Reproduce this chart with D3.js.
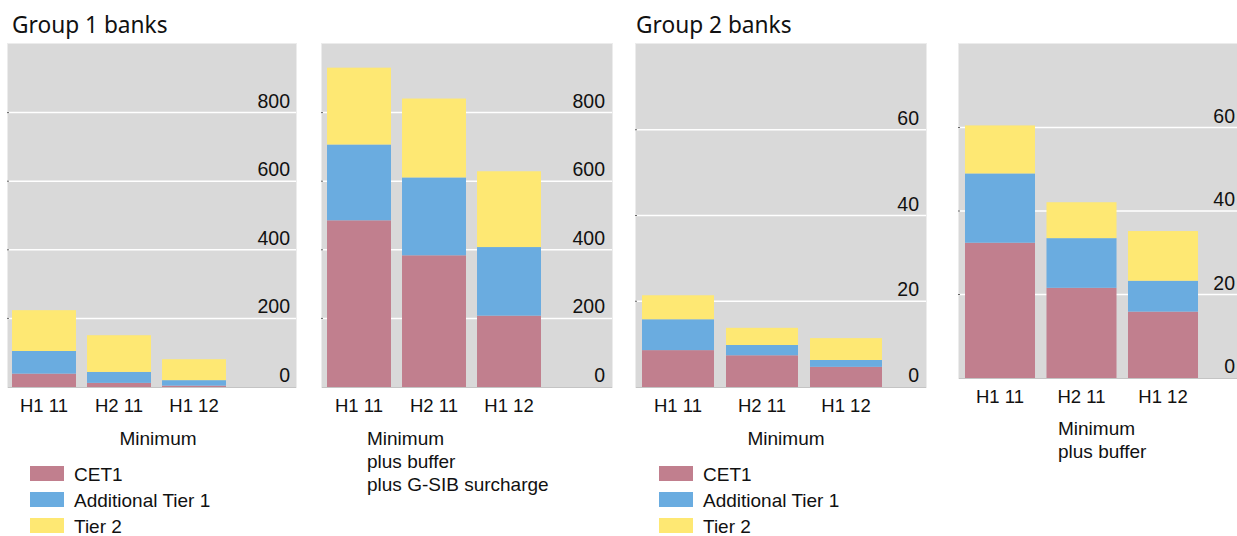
<!DOCTYPE html>
<html>
<head>
<meta charset="utf-8">
<title>Capital shortfall by group</title>
<script src="https://d3js.org/d3.v7.min.js"></script>
<style>
    body { margin: 0; background: #fff; }
    text { font-family: "Liberation Sans", Arial, sans-serif; fill: #111; }
    .title { font-family: "Noto Sans", "Open Sans", sans-serif; font-size: 22.7px; }
</style>
</head>
<body>
<svg id="chart" width="1237" height="536"></svg>
<script>
// categories and series
const periods = ["H1 11", "H2 11", "H1 12"];
const seriesNames = ["CET1", "Additional Tier 1", "Tier 2"];
const seriesColors = ["#c17f8e", "#6aace0", "#fee873"];

// Group 1 banks, EUR bn
const g1MinCET1 = [39, 12, 4];
const g1MinAT1 = [66, 32, 16];
const g1MinT2 = [119, 107, 61];
const g1BufCET1 = [486, 384, 208];
const g1BufAT1 = [221, 227, 200];
const g1BufT2 = [224, 230, 221];

// Group 2 banks
const g2MinCET1 = [8.6, 7.4, 4.7];
const g2MinAT1 = [7.2, 2.4, 1.6];
const g2MinT2 = [5.6, 4.0, 5.1];
const g2BufCET1 = [32.4, 21.6, 15.9];
const g2BufAT1 = [16.6, 11.9, 7.4];
const g2BufT2 = [11.5, 8.6, 11.9];

const g1Ticks = [0, 200, 400, 600, 800];
const g2Ticks = [0, 20, 40, 60];

const svg = d3.select("#chart");

// layout of each panel
const panels = [
    { vals: [g1MinCET1, g1MinAT1, g1MinT2], max: 1000, ticks: g1Ticks,
      left: 8, right: 296, top: 44, bottom: 387, band: [6.5, 231.5], pad: 0.147, tickX: 290,
      sub: ["Minimum"], subX: 158, subAnchor: "middle", subY: 445,
      legend: { x: 30, y: 466 } },
    { vals: [g1BufCET1, g1BufAT1, g1BufT2], max: 1000, ticks: g1Ticks,
      left: 322, right: 612, top: 44, bottom: 387, band: [321.5, 546.5], pad: 0.147, tickX: 605,
      sub: ["Minimum", "plus buffer", "plus G-SIB surcharge"], subX: 367, subAnchor: "start", subY: 445 },
    { vals: [g2MinCET1, g2MinAT1, g2MinT2], max: 80, ticks: g2Ticks,
      left: 636, right: 926, top: 44, bottom: 387, band: [636, 888], pad: 0.143, tickX: 919,
      sub: ["Minimum"], subX: 786, subAnchor: "middle", subY: 445,
      legend: { x: 659, y: 466 } },
    { vals: [g2BufCET1, g2BufAT1, g2BufT2], max: 80, ticks: g2Ticks,
      left: 959, right: 1237, top: 44, bottom: 378, band: [959.25, 1203.75], pad: 0.141, tickX: 1235,
      sub: ["Minimum", "plus buffer"], subX: 1058, subAnchor: "start", subY: 435 }
];

svg.append("text").attr("class", "title").attr("x", 12).attr("y", 33).text("Group 1 banks");
svg.append("text").attr("class", "title").attr("x", 636).attr("y", 33).text("Group 2 banks");

panels.forEach(function (p) {
    const g = svg.append("g");

    const x = d3.scaleBand()
        .domain(periods)
        .range(p.band)
        .paddingInner(p.pad)
        .paddingOuter(p.pad / 2);

    const y = d3.scaleLinear()
        .domain([0, p.max])
        .range([p.bottom, p.top]);

    // plot background
    g.append("rect")
        .attr("x", p.left - 0.5)
        .attr("y", p.top - 0.5)
        .attr("width", p.right - p.left + 1)
        .attr("height", p.bottom - p.top + 1)
        .attr("fill", "#d9d9d9")
        .attr("stroke", "#ececec");

    // gridlines
    g.selectAll(".grid")
        .data(p.ticks.filter(d => d > 0))
        .enter()
        .append("line")
        .attr("x1", p.left)
        .attr("x2", p.right)
        .attr("y1", d => y(d))
        .attr("y2", d => y(d))
        .attr("stroke", "#fff")
        .attr("stroke-width", 1.5);

    // small left ticks
    g.selectAll(".ltick")
        .data(p.ticks.filter(d => d > 0))
        .enter()
        .append("line")
        .attr("x1", p.left - 1)
        .attr("x2", p.left + 1)
        .attr("y1", d => y(d))
        .attr("y2", d => y(d))
        .attr("stroke", "#666")
        .attr("stroke-width", 1);

    // stacked bars
    const rows = periods.map((per, i) => {
        const r = { period: per };
        seriesNames.forEach((s, k) => { r[s] = p.vals[k][i]; });
        return r;
    });
    const stacked = d3.stack().keys(seriesNames)(rows);

    g.selectAll(".layer")
        .data(stacked)
        .enter()
        .append("g")
        .attr("fill", (d, i) => seriesColors[i])
        .selectAll("rect")
        .data(d => d)
        .enter()
        .append("rect")
        .attr("x", d => x(d.data.period))
        .attr("width", x.bandwidth())
        .attr("y", d => y(d[1]))
        .attr("height", d => y(d[0]) - y(d[1]));

    // baseline
    g.append("line")
        .attr("x1", p.left)
        .attr("x2", p.right)
        .attr("y1", p.bottom + 0.5)
        .attr("y2", p.bottom + 0.5)
        .attr("stroke", "#c4c4c4");

    // value labels sit above their gridlines, right aligned
    g.selectAll(".ylab")
        .data(p.ticks)
        .enter()
        .append("text")
        .attr("x", p.tickX)
        .attr("y", d => y(d) - 5)
        .attr("text-anchor", "end")
        .style("font-size", "19.5px")
        .text(d => d);

    // category labels
    g.selectAll(".xlab")
        .data(periods)
        .enter()
        .append("text")
        .attr("x", d => x(d) + x.bandwidth() / 2)
        .attr("y", p.bottom + 25)
        .attr("text-anchor", "middle")
        .style("font-size", "18.5px")
        .text(d => d);

    // panel subtitle
    g.selectAll(".sub")
        .data(p.sub)
        .enter()
        .append("text")
        .attr("x", p.subX)
        .attr("y", (d, i) => p.subY + i * 23)
        .attr("text-anchor", p.subAnchor)
        .style("font-size", "19px")
        .text(d => d);

    // legend
    if (p.legend) {
        const lg = g.selectAll(".leg")
            .data(seriesNames)
            .enter()
            .append("g")
            .attr("transform", (d, i) => "translate(" + p.legend.x + "," + (p.legend.y + i * 26) + ")");
        lg.append("rect")
            .attr("width", 34)
            .attr("height", 15)
            .attr("fill", (d, i) => seriesColors[i]);
        lg.append("text")
            .attr("x", 44)
            .attr("y", 14.5)
            .style("font-size", "19px")
            .text(d => d);
    }
});
</script>
</body>
</html>
